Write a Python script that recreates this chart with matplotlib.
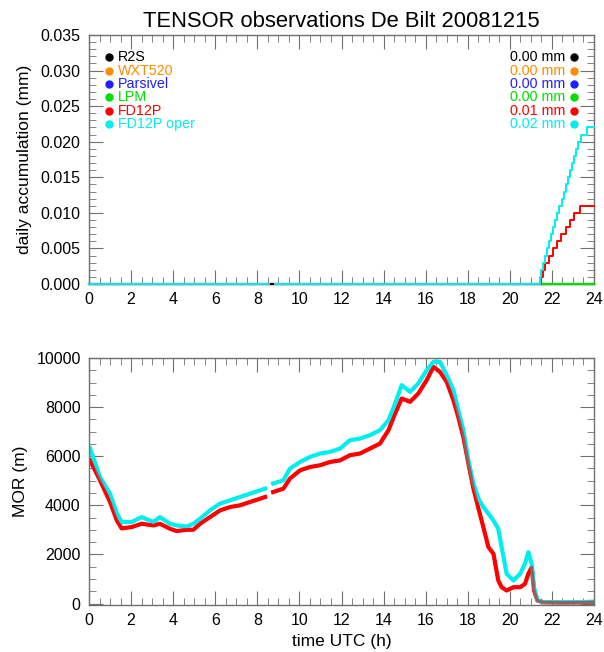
import numpy as np
import matplotlib
matplotlib.use("Agg")
import matplotlib.pyplot as plt
from matplotlib.ticker import MultipleLocator

plt.rcParams["font.family"] = ["Liberation Sans", "DejaVu Sans"]

# Legend / instrument info
instruments = ["R2S", "WXT520", "Parsivel", "LPM", "FD12P", "FD12P oper"]
colors = ["black", "#ff8c00", "#2020ff", "#00e000", "#ff0000", "#00eeee"]
totals = [0.00, 0.00, 0.00, 0.00, 0.01, 0.02]

# Daily accumulation (mm), step times in hours UTC
zero_t = [0.0, 24.0]
zero_v = [0.0, 0.0]
lpm_t = [21.0, 24.0]
lpm_v = [0.0, 0.0]
fd_t = [0.0, 8.55, 8.56, 8.85, 21.50, 21.56, 21.68, 21.85, 22.05, 22.25, 22.45,
        22.65, 22.85, 23.05, 23.34, 24.0]
fd_v = [0.0, 0.0, np.nan, 0.0, 0.001, 0.002, 0.003, 0.004, 0.005, 0.006, 0.007,
        0.008, 0.009, 0.010, 0.011, 0.011]
oper_t = [0.0, 8.55, 8.56, 8.85, 21.43, 21.50, 21.58, 21.66, 21.76, 21.86, 21.96,
          22.06, 22.16, 22.26, 22.36, 22.46, 22.56, 22.66, 22.76, 22.86, 22.96,
          23.06, 23.16, 23.26, 23.40, 23.65, 24.0]
oper_v = [0.0, 0.0, np.nan, 0.0, 0.001, 0.002, 0.003, 0.004, 0.005, 0.006, 0.007,
          0.008, 0.009, 0.010, 0.011, 0.012, 0.013, 0.014, 0.015, 0.016, 0.017,
          0.018, 0.019, 0.020, 0.021, 0.022, 0.022]

# MOR (m)
mor_t = [0.05, 0.52, 1.0, 1.32, 1.55, 2.03, 2.5, 3.06, 3.37, 3.85, 4.17, 4.64,
         4.96, 5.28, 5.75, 6.23, 6.70, 7.18, 7.65, 8.13, 8.37, 8.55, 8.75, 9.24,
         9.55, 10.03, 10.5, 10.98, 11.45, 11.93, 12.4, 12.88, 13.35, 13.83, 14.23,
         14.55, 14.86, 15.26, 15.65, 16.05, 16.37, 16.68, 17.0, 17.32, 17.55,
         17.79, 18.03, 18.27, 18.51, 18.74, 18.98, 19.22, 19.45, 19.61, 19.85,
         20.17, 20.49, 20.72, 20.88, 21.04, 21.15, 21.31, 21.6, 22.5, 23.5, 24.0]
mor_oper = [6320, 5150, 4475, 3670, 3320, 3320, 3520, 3320, 3520, 3250, 3180, 3140,
            3250, 3455, 3795, 4070, 4200, 4340, 4475, 4610, 4680, np.nan, 4885, 5020,
            5495, 5765, 5970, 6110, 6175, 6310, 6650, 6720, 6855, 7060, 7465,
            8150, 8895, 8620, 8965, 9505, 9845, 9845, 9300, 8690, 7875,
            7060, 5835, 4885, 4270, 3930, 3660, 3385, 3045, 2300, 1210,
            940, 1210, 1620, 2090, 1620, 665, 120, 60, 55, 60, 80]
mor_fd = [5830, 5020, 4135, 3390, 3060, 3115, 3250, 3180, 3250, 3045, 2950, 3005,
          3005, 3250, 3520, 3795, 3930, 4000, 4135, 4270, 4340, np.nan, 4540, 4680,
          5090, 5425, 5560, 5630, 5765, 5830, 6040, 6110, 6310, 6515, 7060,
          7740, 8350, 8215, 8555, 9100, 9640, 9435, 9030, 8280, 7600,
          6785, 5700, 4680, 3865, 3115, 2300, 2030, 940, 665, 530,
          665, 665, 800, 1210, 1480, 530, 120, 50, 40, 45, 60]

fig = plt.figure(figsize=(6.04, 6.52), dpi=100)
ax1 = fig.add_axes([89 / 604, 1 - 284 / 652, 505 / 604, 249 / 652])
ax2 = fig.add_axes([89 / 604, 1 - 605 / 652, 505 / 604, 247 / 652])

spine_col = "#707070"
for ax in (ax1, ax2):
    for s in ax.spines.values():
        s.set_color(spine_col)
        s.set_linewidth(1.0)
    ax.tick_params(which="both", direction="in", top=True, right=True,
                   color=spine_col, labelsize=11.5, pad=6)
    ax.tick_params(which="major", length=10)
    ax.tick_params(which="minor", length=5)
    ax.set_xlim(0, 24)
    ax.xaxis.set_major_locator(MultipleLocator(2))
    ax.xaxis.set_minor_locator(MultipleLocator(0.5))

# Top panel
ax1.plot(zero_t, zero_v, color=colors[2], lw=1.5, clip_on=False, zorder=3)
ax1.plot(zero_t, zero_v, color=colors[1], lw=1.5, clip_on=False, zorder=3)
ax1.plot(zero_t, zero_v, color=colors[0], lw=1.5, clip_on=False, zorder=3)
ax1.plot(lpm_t, lpm_v, color=colors[3], lw=1.5, clip_on=False, zorder=3)
ax1.plot(fd_t, fd_v, color=colors[4], lw=1.4, drawstyle="steps-post", clip_on=False, zorder=3)
ax1.plot(oper_t, oper_v, color=colors[5], lw=1.4, drawstyle="steps-post", clip_on=False, zorder=3)
ax1.set_ylim(0, 0.035)
ax1.yaxis.set_major_locator(MultipleLocator(0.005))
ax1.yaxis.set_minor_locator(MultipleLocator(0.001))
ax1.yaxis.set_major_formatter(matplotlib.ticker.FormatStrFormatter("%.3f"))
ax1.set_ylabel("daily accumulation (mm)", fontsize=12.5, labelpad=6)
ax1.set_title("TENSOR observations De Bilt 20081215", fontsize=15.8, pad=6)

rows = [0.912, 0.857, 0.803, 0.749, 0.695, 0.641]
for name, c, tot, y in zip(instruments, colors, totals, rows):
    ax1.plot([0.0396], [y], "o", color=c, ms=5, transform=ax1.transAxes, clip_on=False)
    ax1.text(0.058, y, name, color=c, fontsize=10.3, va="center", transform=ax1.transAxes)
    ax1.text(0.943, y, "%.2f mm" % tot, color=c, fontsize=10.3, va="center", ha="right",
             transform=ax1.transAxes)
    ax1.plot([0.961], [y], "o", color=c, ms=5, transform=ax1.transAxes, clip_on=False)

# Bottom panel
ax2.plot(mor_t, mor_fd, color="red", lw=3)
ax2.plot(mor_t, mor_oper, color="#00eeee", lw=3)
ax2.plot(mor_t, mor_fd, color="red", lw=2.2, alpha=0.6)
ax2.set_ylim(-60, 10000)
ax2.yaxis.set_major_locator(MultipleLocator(2000))
ax2.yaxis.set_minor_locator(MultipleLocator(500))
ax2.set_ylabel("MOR (m)", fontsize=12.5, labelpad=6)
ax2.set_xlabel("time UTC (h)", fontsize=12.5, labelpad=4)

fig.savefig("out.png", dpi=100)
